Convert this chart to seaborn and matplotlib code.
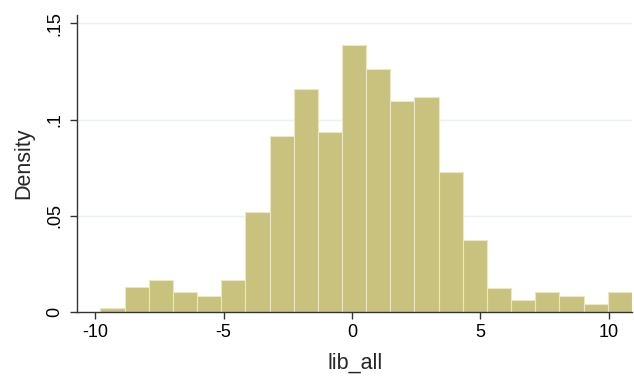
import numpy as np
import pandas as pd
import matplotlib
matplotlib.use("Agg")
import matplotlib.pyplot as plt
import seaborn as sns

# Histogram bins (Stata-style: 22 bins starting at the minimum)
bin_start = -9.805
bin_width = 0.9415
n_bins = 22
# Density heights
density = [0.0021, 0.0127, 0.0165, 0.0102, 0.0083, 0.0165, 0.0521, 0.0915,
           0.1161, 0.0934, 0.1389, 0.1264, 0.1098, 0.1118, 0.0727, 0.0375,
           0.0125, 0.0061, 0.0102, 0.0083, 0.0042, 0.0102]
x_ticks = [-10, -5, 0, 5, 10]
y_ticks = [0, 0.05, 0.10, 0.15]
y_tick_labels = ["0", ".05", ".1", ".15"]

edges = bin_start + bin_width * np.arange(n_bins + 1)
centers = (edges[:-1] + edges[1:]) / 2
df = pd.DataFrame({"lib_all": centers, "density": density})

sns.set_style("white")
plt.rcParams["font.family"] = ["Liberation Sans", "DejaVu Sans"]

fig = plt.figure(figsize=(6.34, 3.77), dpi=100)
ax = fig.add_axes([0.1219, 0.1732, 0.9968 - 0.1219, 0.9602 - 0.1732])

ax.set_axisbelow(True)
for yt in y_ticks[1:]:
    ax.axhline(yt, color="#eaf2f3", lw=1.0, zorder=0)

sns.histplot(data=df, x="lib_all", weights="density",
             binwidth=bin_width, binrange=(edges[0], edges[-1]),
             stat="count", color="#c9c27e", alpha=1.0,
             edgecolor="#ebe7c4", linewidth=0.8, ax=ax, zorder=2)

ax.set_xlim(-10.705, 10.91)
ax.set_ylim(0, 0.1544)
ax.set_xticks(x_ticks)
ax.set_xticklabels([str(t) for t in x_ticks])
ax.set_yticks(y_ticks)
ax.set_yticklabels(y_tick_labels, rotation=90, va="center")

for s in ["top", "right"]:
    ax.spines[s].set_visible(False)
for s in ["left", "bottom"]:
    ax.spines[s].set_color("#333333")
    ax.spines[s].set_linewidth(1.0)

ax.tick_params(axis="both", which="major", direction="out", length=5,
               width=1.0, color="#333333", labelsize=13, labelcolor="black",
               pad=4, bottom=True, left=True)
ax.tick_params(axis="y", pad=5)
ax.set_xlabel("lib_all", fontsize=15.5, labelpad=8)
ax.set_ylabel("Density", fontsize=15.5, labelpad=9)

fig.savefig("out.png", dpi=100, facecolor="white")
